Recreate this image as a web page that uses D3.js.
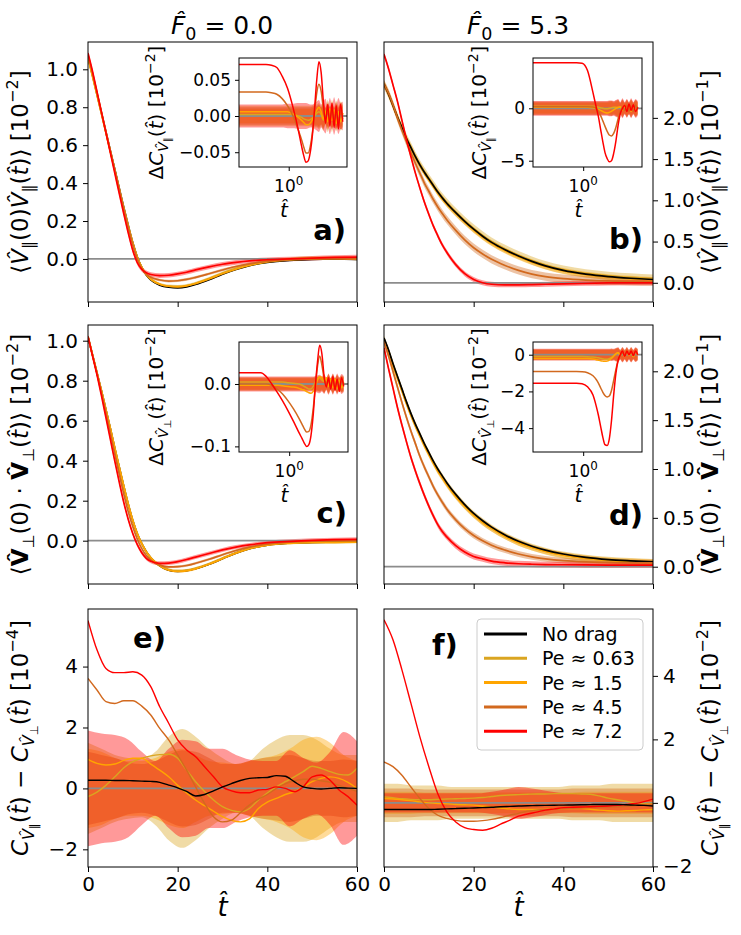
<!DOCTYPE html>
<html>
<head>
<meta charset="utf-8">
<script src="https://cdn.jsdelivr.net/npm/d3@7"></script>
<style>
  body { margin: 0; background: #fff; }
  svg { font-family: "DejaVu Sans", sans-serif; }
</style>
</head>
<body>
<div id="chart"></div>
<script>
// ---- data ----
const SERIES = ['No drag', 'Pe ≈ 0.63', 'Pe ≈ 1.5', 'Pe ≈ 4.5', 'Pe ≈ 7.2'];
const COLORS = ['#000000', '#daa520', '#ffa500', '#d2691e', '#ff0000'];

// main time grid for panels a-d
const T = [0, 1, 2, 3, 4, 5, 6, 7, 8, 9, 10, 11, 12, 13, 14, 16, 18, 20, 22, 24, 27, 30, 33, 36, 40, 45, 50, 55, 60];

const aBlack = [1.065, 0.97, 0.87, 0.77, 0.67, 0.57, 0.47, 0.37, 0.27, 0.175, 0.085, 0.01, -0.045, -0.085, -0.11, -0.138, -0.149, -0.152, -0.147, -0.135, -0.11, -0.08, -0.055, -0.035, -0.018, -0.007, -0.002, 0.0, -0.003];
const aGold = [1.06, 0.965, 0.865, 0.765, 0.665, 0.565, 0.465, 0.365, 0.265, 0.172, 0.083, 0.008, -0.045, -0.083, -0.107, -0.133, -0.143, -0.145, -0.14, -0.128, -0.103, -0.074, -0.05, -0.03, -0.012, 0.0, 0.006, 0.006, 0.0];
const aOrange = [1.058, 0.963, 0.865, 0.765, 0.665, 0.566, 0.466, 0.366, 0.266, 0.172, 0.083, 0.009, -0.044, -0.082, -0.106, -0.133, -0.144, -0.147, -0.142, -0.13, -0.106, -0.078, -0.054, -0.034, -0.016, -0.005, 0.0, 0.002, 0.0];
const aChoc = [1.075, 0.98, 0.878, 0.775, 0.672, 0.57, 0.468, 0.366, 0.262, 0.165, 0.074, 0.0, -0.05, -0.081, -0.097, -0.111, -0.117, -0.115, -0.108, -0.097, -0.078, -0.058, -0.04, -0.026, -0.013, -0.004, 0.0, 0.002, 0.0];
const aRed = [1.085, 0.99, 0.882, 0.774, 0.666, 0.558, 0.45, 0.342, 0.236, 0.135, 0.045, -0.02, -0.055, -0.073, -0.082, -0.088, -0.086, -0.079, -0.07, -0.058, -0.042, -0.028, -0.018, -0.01, -0.004, 0.0, 0.004, 0.008, 0.01];

const bBlack = [2.41, 2.29, 2.15, 2.01, 1.88, 1.75, 1.64, 1.53, 1.43, 1.34, 1.26, 1.18, 1.1, 1.03, 0.965, 0.85, 0.745, 0.65, 0.565, 0.49, 0.4, 0.325, 0.26, 0.205, 0.15, 0.105, 0.075, 0.055, 0.04];
const bGold = [2.41, 2.29, 2.15, 2.01, 1.88, 1.76, 1.65, 1.54, 1.44, 1.35, 1.27, 1.19, 1.11, 1.04, 0.975, 0.86, 0.755, 0.66, 0.575, 0.5, 0.41, 0.335, 0.27, 0.215, 0.16, 0.115, 0.085, 0.065, 0.05];
const bOrange = [2.41, 2.29, 2.15, 2.01, 1.88, 1.75, 1.63, 1.52, 1.42, 1.33, 1.25, 1.17, 1.09, 1.02, 0.955, 0.84, 0.735, 0.64, 0.555, 0.48, 0.39, 0.315, 0.25, 0.197, 0.143, 0.1, 0.07, 0.05, 0.036];
const bChoc = [2.41, 2.3, 2.16, 2.0, 1.85, 1.71, 1.58, 1.45, 1.33, 1.21, 1.11, 1.01, 0.92, 0.84, 0.765, 0.635, 0.52, 0.425, 0.35, 0.285, 0.21, 0.15, 0.105, 0.075, 0.05, 0.032, 0.022, 0.018, 0.015];
const bRed = [2.77, 2.6, 2.4, 2.2, 1.97, 1.74, 1.53, 1.33, 1.15, 0.98, 0.83, 0.69, 0.57, 0.46, 0.37, 0.22, 0.11, 0.04, 0.0, -0.018, -0.025, -0.025, -0.022, -0.018, -0.012, -0.006, -0.002, 0.0, 0.0];

const cBlack = [1.02, 0.93, 0.84, 0.75, 0.655, 0.56, 0.46, 0.365, 0.27, 0.18, 0.1, 0.035, -0.015, -0.055, -0.085, -0.125, -0.147, -0.153, -0.15, -0.14, -0.118, -0.09, -0.062, -0.04, -0.022, -0.012, -0.008, -0.007, -0.006];
const cGold = [1.02, 0.93, 0.84, 0.75, 0.655, 0.56, 0.462, 0.366, 0.272, 0.182, 0.102, 0.036, -0.014, -0.054, -0.084, -0.123, -0.144, -0.15, -0.147, -0.137, -0.115, -0.087, -0.06, -0.039, -0.021, -0.012, -0.009, -0.008, -0.007];
const cOrange = [1.02, 0.93, 0.84, 0.75, 0.655, 0.56, 0.46, 0.364, 0.27, 0.18, 0.1, 0.034, -0.016, -0.056, -0.086, -0.126, -0.148, -0.154, -0.151, -0.141, -0.118, -0.09, -0.062, -0.04, -0.022, -0.013, -0.009, -0.008, -0.007];
const cChoc = [1.02, 0.928, 0.836, 0.74, 0.64, 0.536, 0.432, 0.33, 0.232, 0.143, 0.07, 0.008, -0.04, -0.074, -0.097, -0.122, -0.131, -0.13, -0.124, -0.113, -0.093, -0.07, -0.049, -0.032, -0.017, -0.007, -0.002, 0.0, 0.0];
const cRed = [1.02, 0.925, 0.83, 0.725, 0.615, 0.505, 0.395, 0.29, 0.19, 0.105, 0.035, -0.02, -0.06, -0.088, -0.103, -0.113, -0.112, -0.105, -0.094, -0.082, -0.064, -0.046, -0.032, -0.021, -0.01, -0.003, 0.002, 0.005, 0.007];

const dBlack = [2.34, 2.22, 2.08, 1.95, 1.82, 1.69, 1.57, 1.46, 1.36, 1.26, 1.17, 1.08, 1.0, 0.93, 0.86, 0.74, 0.635, 0.545, 0.47, 0.405, 0.325, 0.26, 0.21, 0.17, 0.13, 0.095, 0.073, 0.06, 0.05];
const dGold = [2.33, 2.21, 2.07, 1.94, 1.81, 1.68, 1.56, 1.45, 1.35, 1.25, 1.16, 1.07, 0.99, 0.92, 0.85, 0.73, 0.625, 0.535, 0.46, 0.395, 0.315, 0.25, 0.2, 0.16, 0.12, 0.088, 0.066, 0.054, 0.045];
const dOrange = [2.33, 2.2, 2.06, 1.93, 1.8, 1.67, 1.55, 1.44, 1.34, 1.24, 1.15, 1.06, 0.98, 0.91, 0.84, 0.72, 0.618, 0.528, 0.453, 0.39, 0.31, 0.245, 0.196, 0.157, 0.118, 0.086, 0.065, 0.053, 0.044];
const dChoc = [2.30, 2.16, 2.0, 1.84, 1.68, 1.53, 1.39, 1.26, 1.13, 1.02, 0.92, 0.82, 0.735, 0.66, 0.59, 0.48, 0.39, 0.32, 0.265, 0.22, 0.17, 0.13, 0.1, 0.08, 0.062, 0.05, 0.044, 0.04, 0.04];
const dRed = [2.24, 2.03, 1.83, 1.63, 1.45, 1.28, 1.12, 0.98, 0.85, 0.73, 0.62, 0.52, 0.43, 0.36, 0.305, 0.215, 0.15, 0.105, 0.08, 0.058, 0.04, 0.03, 0.025, 0.022, 0.02, 0.018, 0.017, 0.017, 0.017];

// error half-widths around the curves (black, 0.63, 1.5, 4.5, 7.2)
const aErr = [0.003, 0.008, 0.006, 0.007, 0.012];
const bErr = [0.015, 0.05, 0.035, 0.05, 0.03];
const cErr = [0.003, 0.006, 0.005, 0.006, 0.01];
const dErr = [0.015, 0.035, 0.03, 0.03, 0.03];

// time grid for panels e-f
const TE = [0, 2, 4, 6, 8, 10, 12, 14, 16, 18, 20, 22, 24, 26, 28, 30, 32, 34, 36, 38, 40, 42, 44, 46, 48, 50, 52, 54, 56, 58, 60];

const eBlack = [0.27, 0.27, 0.27, 0.26, 0.26, 0.25, 0.24, 0.23, 0.2, 0.11, 0.02, -0.1, -0.25, -0.2, -0.08, 0.05, 0.16, 0.26, 0.33, 0.35, 0.36, 0.42, 0.4, 0.22, 0.05, 0.0, -0.02, 0.0, 0.02, 0.01, 0.0];
const eGold = [-0.27, -0.12, 0.1, 0.38, 0.68, 0.88, 0.99, 1.07, 1.11, 1.12, 0.99, 0.6, 0.22, -0.1, -0.38, -0.6, -0.72, -0.77, -0.66, -0.38, -0.15, 0.05, 0.22, 0.38, 0.55, 0.73, 0.66, 0.55, 0.46, 0.44, 0.66];
const eOrange = [0.95, 0.82, 0.77, 0.8, 0.92, 0.99, 0.99, 0.8, 0.6, 0.38, 0.1, -0.15, -0.38, -0.57, -0.75, -0.93, -1.05, -1.1, -1.0, -0.66, -0.45, -0.33, -0.2, -0.11, 0.05, 0.22, 0.33, 0.38, 0.33, 0.2, 0.0];
const eChoc = [3.61, 3.23, 2.85, 2.79, 2.88, 2.88, 2.7, 2.41, 1.97, 1.59, 1.1, 0.6, 0.05, -0.49, -0.93, -1.1, -1.04, -0.8, -0.55, -0.35, -0.2, 0.0, 0.15, 0.25, 0.3, 0.3, 0.25, 0.2, 0.1, 0.0, -0.1];
const eRed = [5.51, 4.55, 3.94, 3.8, 3.8, 3.83, 3.72, 3.34, 2.68, 2.14, 1.59, 1.26, 1.04, 0.71, 0.38, 0.05, -0.08, -0.14, -0.14, -0.05, -0.03, 0.05, 0.0, -0.11, 0.05, 0.38, 0.44, 0.27, -0.05, -0.27, -0.55];

const fBlack = [-0.21, -0.21, -0.21, -0.21, -0.21, -0.21, -0.2, -0.19, -0.18, -0.17, -0.16, -0.15, -0.14, -0.12, -0.11, -0.1, -0.09, -0.085, -0.08, -0.075, -0.07, -0.065, -0.06, -0.055, -0.05, -0.05, -0.05, -0.06, -0.07, -0.08, -0.1];
const fGold = [0.19, 0.16, 0.13, 0.11, 0.1, 0.1, 0.11, 0.12, 0.13, 0.14, 0.15, 0.17, 0.2, 0.23, 0.25, 0.26, 0.27, 0.28, 0.28, 0.29, 0.29, 0.29, 0.28, 0.27, 0.22, 0.15, 0.1, 0.05, 0.0, -0.02, -0.02];
const fOrange = [0.14, 0.12, 0.1, 0.07, 0.03, 0.0, -0.02, -0.03, -0.05, -0.06, -0.07, -0.1, -0.13, -0.16, -0.19, -0.21, -0.21, -0.21, -0.2, -0.19, -0.18, -0.18, -0.18, -0.2, -0.23, -0.25, -0.26, -0.25, -0.24, -0.22, -0.21];
const fChoc = [1.29, 1.14, 0.87, 0.5, 0.14, -0.18, -0.39, -0.49, -0.55, -0.58, -0.58, -0.56, -0.52, -0.46, -0.39, -0.33, -0.26, -0.23, -0.21, -0.2, -0.18, -0.17, -0.16, -0.15, -0.14, -0.13, -0.12, -0.11, -0.09, -0.06, -0.04];
const fRed = [5.77, 5.14, 4.19, 3.14, 2.08, 1.14, 0.29, -0.28, -0.6, -0.78, -0.84, -0.86, -0.8, -0.67, -0.55, -0.42, -0.35, -0.29, -0.23, -0.19, -0.15, -0.14, -0.13, -0.12, -0.11, -0.1, -0.08, -0.05, -0.02, 0.04, 0.12];

// noise bands around zero for panels e-f (0.63, 1.5, 4.5, 7.2)
const TB = [0, 3, 6, 9, 12, 15, 18, 21, 24, 27, 30, 33, 36, 39, 42, 45, 48, 51, 54, 57, 60];
const eBandGold = [1.5, 1.3, 1.1, 1.0, 0.95, 1.2, 1.7, 1.95, 1.7, 1.3, 1.0, 0.8, 0.9, 1.3, 1.6, 1.75, 1.75, 1.6, 1.3, 1.1, 1.1];
const eBandOrange = [1.3, 1.2, 1.0, 0.9, 0.9, 1.0, 1.2, 1.3, 1.1, 0.9, 0.85, 0.8, 0.9, 1.0, 1.1, 1.3, 1.6, 1.7, 1.5, 1.1, 0.9];
const eBandChoc = [1.2, 1.1, 1.0, 0.85, 0.8, 0.9, 1.1, 1.25, 1.2, 1.0, 0.8, 0.8, 0.9, 1.0, 1.05, 1.1, 1.0, 0.9, 0.9, 0.95, 0.9];
const eBandRed = [1.9, 1.8, 1.75, 1.6, 1.2, 0.9, 1.3, 1.6, 1.55, 1.3, 1.3, 1.1, 0.95, 0.9, 0.9, 1.25, 1.0, 0.85, 1.2, 1.85, 1.55];
const fBandGold = [0.6, 0.6, 0.55, 0.55, 0.55, 0.5, 0.5, 0.5, 0.5, 0.5, 0.5, 0.5, 0.5, 0.5, 0.55, 0.55, 0.55, 0.6, 0.6, 0.6, 0.6];
const fBandOrange = [0.35, 0.35, 0.35, 0.33, 0.33, 0.33, 0.33, 0.33, 0.33, 0.33, 0.33, 0.33, 0.33, 0.33, 0.33, 0.35, 0.35, 0.35, 0.35, 0.35, 0.35];
const fBandChoc = [0.45, 0.45, 0.45, 0.42, 0.42, 0.42, 0.42, 0.42, 0.42, 0.42, 0.42, 0.42, 0.42, 0.42, 0.45, 0.45, 0.45, 0.45, 0.45, 0.45, 0.45];
const fBandRed = [0.3, 0.3, 0.3, 0.3, 0.3, 0.3, 0.3, 0.3, 0.35, 0.42, 0.5, 0.45, 0.38, 0.32, 0.3, 0.3, 0.3, 0.3, 0.3, 0.3, 0.3];

// inset time grid (log axis)
const IT = [0.2, 0.284, 0.402, 0.479, 0.572, 0.68, 0.809, 0.965, 1.149, 1.37, 1.52, 1.63, 1.75, 1.88, 2.01, 2.16, 2.31, 2.48, 2.66, 2.86, 3.07, 3.29, 3.53, 3.79, 4.06, 4.35, 4.66, 5.0, 5.36, 5.75];

const iaGold = [0.002, 0.002, 0.002, 0.002, 0.002, 0.002, 0.002, 0.002, 0.002, 0.0, -0.002, -0.004, -0.005, -0.006, -0.005, -0.003, 0.0, 0.004, 0.006, 0.002, -0.006, 0.008, -0.008, 0.01, -0.006, 0.009, -0.01, 0.006, -0.008, 0.004];
const iaOrange = [0.006, 0.006, 0.006, 0.006, 0.006, 0.006, 0.006, 0.006, 0.003, -0.002, -0.006, -0.009, -0.012, -0.012, -0.01, -0.005, 0.002, 0.008, 0.012, 0.006, -0.004, 0.006, -0.008, 0.01, -0.006, 0.008, -0.01, 0.006, -0.008, 0.004];
const iaChoc = [0.033, 0.033, 0.033, 0.033, 0.032, 0.03, 0.024, 0.014, 0.0, -0.02, -0.033, -0.043, -0.051, -0.051, -0.042, -0.022, 0.005, 0.032, 0.044, 0.034, 0.01, -0.004, 0.008, -0.006, 0.01, -0.008, 0.006, -0.01, 0.008, -0.004];
const iaRed = [0.071, 0.071, 0.071, 0.071, 0.07, 0.067, 0.055, 0.038, 0.012, -0.02, -0.042, -0.055, -0.064, -0.062, -0.05, -0.025, 0.01, 0.05, 0.075, 0.06, 0.02, -0.01, 0.016, -0.014, 0.018, -0.016, 0.014, -0.018, 0.016, -0.008];
const iaBandGold = [0.014, 0.014, 0.014, 0.014, 0.014, 0.014, 0.014, 0.014, 0.014, 0.014, 0.014, 0.014, 0.014, 0.014, 0.014, 0.015, 0.016, 0.016, 0.018, 0.014, 0.02, 0.012, 0.022, 0.013, 0.022, 0.012, 0.021, 0.014, 0.02, 0.016];
const iaBandOrange = [0.01, 0.01, 0.01, 0.01, 0.01, 0.01, 0.01, 0.01, 0.01, 0.01, 0.01, 0.01, 0.01, 0.01, 0.01, 0.011, 0.012, 0.012, 0.014, 0.011, 0.016, 0.01, 0.017, 0.01, 0.016, 0.01, 0.016, 0.011, 0.015, 0.012];
const iaBandChoc = [0.012, 0.012, 0.012, 0.012, 0.012, 0.012, 0.012, 0.012, 0.012, 0.012, 0.012, 0.012, 0.012, 0.012, 0.012, 0.013, 0.014, 0.014, 0.016, 0.012, 0.018, 0.011, 0.019, 0.012, 0.018, 0.011, 0.019, 0.012, 0.018, 0.014];
const iaBandRed = [0.016, 0.016, 0.016, 0.016, 0.016, 0.016, 0.016, 0.017, 0.017, 0.018, 0.018, 0.018, 0.018, 0.017, 0.016, 0.016, 0.018, 0.02, 0.022, 0.016, 0.02, 0.024, 0.014, 0.025, 0.015, 0.026, 0.016, 0.025, 0.018, 0.02];

const ibGold = [0.2, 0.2, 0.2, 0.2, 0.2, 0.2, 0.2, 0.2, 0.2, 0.2, 0.15, 0.1, 0.05, 0.0, -0.05, -0.05, 0.0, 0.05, 0.1, 0.1, 0.05, 0.15, -0.2, 0.3, -0.2, 0.25, -0.3, 0.2, -0.2, 0.1];
const ibOrange = [0.1, 0.1, 0.1, 0.1, 0.1, 0.1, 0.1, 0.1, 0.1, 0.05, 0.0, -0.1, -0.2, -0.3, -0.4, -0.45, -0.4, -0.3, -0.15, 0.0, 0.1, 0.15, -0.2, 0.3, -0.2, 0.2, -0.3, 0.2, -0.2, 0.1];
const ibChoc = [0.15, 0.15, 0.15, 0.15, 0.15, 0.15, 0.15, 0.15, 0.15, 0.12, 0.0, -0.3, -0.7, -1.2, -1.7, -2.2, -2.55, -2.64, -2.4, -1.8, -1.0, -0.3, 0.1, -0.2, 0.3, -0.3, 0.2, -0.3, 0.3, 0.0];
const ibRed = [4.35, 4.35, 4.35, 4.35, 4.35, 4.35, 4.35, 4.3, 3.6, 1.5, 0.1, -0.8, -2.0, -3.2, -4.2, -4.8, -5.1, -5.0, -4.3, -3.1, -1.6, -0.5, 0.0, 0.3, -0.3, 0.4, -0.2, 0.35, -0.3, 0.1];
const ibBandGold = [0.6, 0.6, 0.6, 0.6, 0.6, 0.6, 0.6, 0.6, 0.6, 0.6, 0.6, 0.6, 0.6, 0.6, 0.6, 0.6, 0.65, 0.7, 0.6, 0.7, 0.8, 0.5, 0.85, 0.5, 0.8, 0.55, 0.85, 0.5, 0.8, 0.6];
const ibBandOrange = [0.5, 0.5, 0.5, 0.5, 0.5, 0.5, 0.5, 0.5, 0.5, 0.5, 0.5, 0.5, 0.5, 0.5, 0.5, 0.5, 0.55, 0.6, 0.5, 0.6, 0.7, 0.45, 0.7, 0.45, 0.7, 0.45, 0.7, 0.45, 0.7, 0.5];
const ibBandChoc = [0.65, 0.65, 0.65, 0.65, 0.65, 0.65, 0.65, 0.65, 0.65, 0.65, 0.65, 0.65, 0.65, 0.65, 0.65, 0.65, 0.7, 0.7, 0.65, 0.75, 0.8, 0.55, 0.85, 0.55, 0.85, 0.55, 0.85, 0.55, 0.8, 0.6];
const ibBandRed = [0.7, 0.7, 0.7, 0.7, 0.7, 0.7, 0.7, 0.7, 0.7, 0.7, 0.7, 0.7, 0.7, 0.7, 0.7, 0.7, 0.75, 0.75, 0.7, 0.8, 0.9, 0.6, 0.95, 0.6, 0.9, 0.6, 0.95, 0.6, 0.9, 0.7];

const icGold = [0.003, 0.003, 0.003, 0.003, 0.003, 0.003, 0.003, 0.002, 0.001, 0.0, -0.002, -0.004, -0.006, -0.008, -0.008, -0.004, 0.003, 0.009, 0.01, 0.006, 0.004, 0.008, -0.004, 0.008, -0.006, 0.006, -0.008, 0.006, -0.006, 0.002];
const icOrange = [-0.002, -0.002, -0.002, -0.002, -0.002, -0.002, -0.003, -0.004, -0.005, -0.007, -0.009, -0.01, -0.012, -0.014, -0.015, -0.012, -0.004, 0.006, 0.012, 0.01, 0.005, 0.01, -0.004, 0.008, -0.006, 0.008, -0.006, 0.006, -0.006, 0.003];
const icChoc = [0.0, 0.0, 0.0, 0.0, -0.002, -0.008, -0.016, -0.027, -0.04, -0.055, -0.065, -0.072, -0.077, -0.076, -0.066, -0.04, -0.005, 0.028, 0.045, 0.03, 0.008, -0.002, 0.008, -0.006, 0.008, -0.006, 0.006, -0.008, 0.006, -0.002];
const icRed = [0.018, 0.018, 0.018, 0.012, 0.0, -0.013, -0.027, -0.043, -0.06, -0.078, -0.088, -0.095, -0.1, -0.097, -0.083, -0.05, -0.005, 0.035, 0.062, 0.048, 0.012, -0.005, 0.01, -0.008, 0.012, -0.01, 0.008, -0.012, 0.01, -0.004];
const icBandGold = [0.011, 0.011, 0.011, 0.011, 0.011, 0.011, 0.011, 0.011, 0.011, 0.011, 0.011, 0.011, 0.011, 0.011, 0.011, 0.011, 0.012, 0.012, 0.013, 0.011, 0.015, 0.009, 0.016, 0.009, 0.016, 0.009, 0.015, 0.01, 0.014, 0.012];
const icBandOrange = [0.009, 0.009, 0.009, 0.009, 0.009, 0.009, 0.009, 0.009, 0.009, 0.009, 0.009, 0.009, 0.009, 0.009, 0.009, 0.009, 0.01, 0.01, 0.011, 0.009, 0.013, 0.008, 0.013, 0.008, 0.013, 0.008, 0.013, 0.008, 0.012, 0.01];
const icBandChoc = [0.01, 0.01, 0.01, 0.01, 0.01, 0.01, 0.01, 0.01, 0.01, 0.01, 0.01, 0.01, 0.01, 0.01, 0.01, 0.01, 0.011, 0.011, 0.012, 0.01, 0.014, 0.009, 0.015, 0.009, 0.015, 0.009, 0.014, 0.009, 0.013, 0.011];
const icBandRed = [0.012, 0.012, 0.012, 0.012, 0.012, 0.012, 0.012, 0.012, 0.012, 0.012, 0.012, 0.012, 0.012, 0.012, 0.012, 0.012, 0.013, 0.014, 0.015, 0.012, 0.016, 0.01, 0.017, 0.01, 0.017, 0.01, 0.017, 0.011, 0.016, 0.013];

const idGold = [-0.1, -0.1, -0.1, -0.1, -0.1, -0.1, -0.1, -0.1, -0.11, -0.13, -0.15, -0.17, -0.2, -0.23, -0.25, -0.25, -0.22, -0.15, -0.05, 0.05, 0.1, 0.0, 0.15, -0.1, 0.2, -0.05, 0.15, -0.1, 0.15, 0.0];
const idOrange = [-0.2, -0.2, -0.2, -0.2, -0.2, -0.2, -0.2, -0.2, -0.21, -0.24, -0.27, -0.3, -0.33, -0.35, -0.36, -0.35, -0.3, -0.2, -0.08, 0.05, 0.1, -0.05, 0.15, -0.1, 0.2, -0.05, 0.15, -0.1, 0.15, 0.0];
const idChoc = [-0.92, -0.92, -0.92, -0.92, -0.92, -0.92, -0.92, -0.93, -0.98, -1.15, -1.35, -1.55, -1.8, -2.05, -2.22, -2.3, -2.25, -1.95, -1.4, -0.8, -0.3, -0.05, 0.1, -0.05, 0.2, 0.0, 0.15, -0.05, 0.15, 0.0];
const idRed = [-1.55, -1.55, -1.55, -1.55, -1.55, -1.55, -1.55, -1.58, -1.75, -2.2, -2.8, -3.3, -3.9, -4.5, -4.9, -4.95, -4.6, -3.6, -2.2, -1.0, -0.3, 0.0, 0.2, -0.1, 0.2, 0.0, 0.2, -0.05, 0.2, 0.0];
const idBandGold = [0.3, 0.3, 0.3, 0.3, 0.3, 0.3, 0.3, 0.3, 0.3, 0.3, 0.3, 0.3, 0.3, 0.3, 0.3, 0.3, 0.3, 0.32, 0.3, 0.35, 0.38, 0.25, 0.4, 0.25, 0.4, 0.25, 0.4, 0.25, 0.38, 0.3];
const idBandOrange = [0.25, 0.25, 0.25, 0.25, 0.25, 0.25, 0.25, 0.25, 0.25, 0.25, 0.25, 0.25, 0.25, 0.25, 0.25, 0.25, 0.25, 0.27, 0.25, 0.3, 0.32, 0.2, 0.34, 0.2, 0.34, 0.2, 0.34, 0.2, 0.32, 0.25];
const idBandChoc = [0.28, 0.28, 0.28, 0.28, 0.28, 0.28, 0.28, 0.28, 0.28, 0.28, 0.28, 0.28, 0.28, 0.28, 0.28, 0.28, 0.28, 0.3, 0.28, 0.33, 0.36, 0.22, 0.38, 0.22, 0.38, 0.22, 0.38, 0.22, 0.36, 0.28];
const idBandRed = [0.32, 0.32, 0.32, 0.32, 0.32, 0.32, 0.32, 0.32, 0.32, 0.32, 0.32, 0.32, 0.32, 0.32, 0.32, 0.32, 0.32, 0.34, 0.32, 0.37, 0.4, 0.27, 0.42, 0.27, 0.42, 0.27, 0.42, 0.27, 0.4, 0.32];

const X_TICKS = [0, 20, 40, 60];

// ---- layout ----
const W = 741, H = 935;
const COLS = [[88, 357], [384, 653]];
const ROWS = [[42, 302], [325, 584], [609, 867]];
const TICK = 5;
const FONT_TICK = 20;

const svg = d3.select('#chart').append('svg')
  .attr('width', W)
  .attr('height', H);

const HAT = '\u0302';
const LEVELS = { '0': [1, 0], '1': [0.7, -0.42], '-1': [0.7, 0.24], '-2': [0.5, 0.42] };

// mathtext-like label built from tspans: [text, style, level]
function mathText(parent, parts, size) {
  const text = parent.append('text').attr('font-size', size);
  let off = 0;
  parts.forEach(([s, style = '', lvl = 0]) => {
    const [k, d] = LEVELS[lvl];
    text.append('tspan')
      .attr('font-size', size * k)
      .attr('font-style', style.includes('i') ? 'italic' : null)
      .attr('font-weight', style.includes('b') ? 'bold' : null)
      .attr('dy', ((d - off) * size).toFixed(2))
      .text(s);
    off = d;
  });
  return text;
}

const V = 'V' + HAT, TH = 't' + HAT;
const LABEL_PAR = (exp) => [['⟨'], [V, 'i'], ['∥', '', -1], ['(0)'], [V, 'i'], ['∥', '', -1], ['('], [TH, 'i'], [')⟩ [10'], [exp, '', 1], [']']];
const LABEL_PERP = (exp) => [['⟨'], [V, 'b'], ['⊥', '', -1], ['(0) · '], [V, 'b'], ['⊥', '', -1], ['('], [TH, 'i'], [')⟩ [10'], [exp, '', 1], [']']];
const LABEL_DIFF = (exp) => [['C', 'i'], [V, 'i', -1], ['∥', '', -2], ['('], [TH, 'i'], [') − '], ['C', 'i'], [V, 'i', -1], ['⊥', '', -2], ['('], [TH, 'i'], [') [10'], [exp, '', 1], [']']];
const LABEL_DELTA = (sym) => [['Δ'], ['C', 'i'], [V, 'i', -1], [sym, '', -2], ['('], [TH, 'i'], [') [10'], ['−2', '', 1], [']']];

function styleAxis(g, size) {
  g.attr('font-family', null).attr('font-size', size);
  g.select('.domain').remove();
  g.selectAll('.tick line').attr('stroke', '#000').attr('stroke-width', 1);
  g.selectAll('.tick text').attr('fill', '#000');
}

function drawPanel(p) {
  const [x0, x1] = COLS[p.col];
  const [y0, y1] = ROWS[p.row];
  const x = d3.scaleLinear().domain([0, 60]).range([x0, x1]);
  const y = d3.scaleLinear().domain(p.yDomain).range([y1, y0]);
  const clip = 'clip-' + p.id;
  svg.append('clipPath').attr('id', clip)
    .append('rect').attr('x', x0).attr('y', y0).attr('width', x1 - x0).attr('height', y1 - y0);
  const plot = svg.append('g').attr('clip-path', `url(#${clip})`);

  // bands
  if (p.err) {
    p.series.forEach((vals, i) => {
      const area = d3.area().curve(d3.curveMonotoneX)
        .x((d, j) => x(p.t[j]))
        .y0((d) => y(d - p.err[i]))
        .y1((d) => y(d + p.err[i]));
      plot.append('path').datum(vals).attr('d', area)
        .attr('fill', COLORS[i]).attr('fill-opacity', i === 0 ? 0.25 : 0.4);
    });
  }
  if (p.bands) {
    p.bands.forEach((hw, k) => {
      const area = d3.area().curve(d3.curveMonotoneX)
        .x((d, j) => x(TB[j]))
        .y0((d) => y(-d))
        .y1((d) => y(d));
      plot.append('path').datum(hw).attr('d', area)
        .attr('fill', COLORS[k + 1]).attr('fill-opacity', 0.4);
    });
  }

  plot.append('line')
    .attr('x1', x0).attr('x2', x1).attr('y1', y(0)).attr('y2', y(0))
    .attr('stroke', '#8c8c8c').attr('stroke-width', 1.8);

  const line = d3.line().curve(d3.curveMonotoneX).x((d, j) => x(p.t[j])).y((d) => y(d));
  p.order.forEach((i) => {
    plot.append('path').datum(p.series[i]).attr('d', line)
      .attr('fill', 'none').attr('stroke', COLORS[i]).attr('stroke-width', p.lw);
  });

  // axes
  const xAxis = svg.append('g').attr('transform', `translate(0,${y1})`)
    .call(d3.axisBottom(x).tickValues(X_TICKS).tickSize(TICK).tickPadding(5)
      .tickFormat(p.row === 2 ? d3.format('d') : ''));
  styleAxis(xAxis, FONT_TICK);

  const axisFn = p.right ? d3.axisRight(y) : d3.axisLeft(y);
  const yAxis = svg.append('g').attr('transform', `translate(${p.right ? x1 : x0},0)`)
    .call(axisFn.tickValues(p.yTicks).tickSize(TICK).tickPadding(5).tickFormat(d3.format(p.yFmt)));
  styleAxis(yAxis, FONT_TICK);

  svg.append('rect').attr('x', x0).attr('y', y0).attr('width', x1 - x0).attr('height', y1 - y0)
    .attr('fill', 'none').attr('stroke', '#000').attr('stroke-width', 1);

  // y label
  const lx = p.right ? 718 : 28;
  const lab = mathText(svg.append('g').attr('transform', `translate(${lx},${(y0 + y1) / 2}) rotate(-90)`), p.label, 23);
  lab.attr('text-anchor', 'middle');

  // panel tag
  svg.append('text').attr('x', p.tag[1]).attr('y', p.tag[2])
    .attr('text-anchor', p.tag[3]).attr('font-size', 29).attr('font-weight', 'bold')
    .text(p.tag[0]);

  if (p.row === 2) {
    mathText(svg.append('g').attr('transform', `translate(${(x0 + x1) / 2},916)`), [[TH, 'i']], 26)
      .attr('text-anchor', 'middle');
  }
  return { x, y };
}

function drawInset(s) {
  const [x0, x1, y0, y1] = s.box;
  const x = d3.scaleLog().domain([0.2, 6.6]).range([x0, x1]);
  const y = d3.scaleLinear().domain(s.yDomain).range([y1, y0]);
  const clip = 'clip-in-' + s.id;
  svg.append('clipPath').attr('id', clip)
    .append('rect').attr('x', x0).attr('y', y0).attr('width', x1 - x0).attr('height', y1 - y0);
  svg.append('rect').attr('x', x0).attr('y', y0).attr('width', x1 - x0).attr('height', y1 - y0)
    .attr('fill', '#fff');
  const plot = svg.append('g').attr('clip-path', `url(#${clip})`);

  s.bands.forEach((hw, k) => {
    const area = d3.area().curve(d3.curveMonotoneX)
      .x((d, j) => x(IT[j])).y0((d) => y(-d)).y1((d) => y(d));
    plot.append('path').datum(hw).attr('d', area)
      .attr('fill', COLORS[k + 1]).attr('fill-opacity', 0.4);
  });
  plot.append('line').attr('x1', x0).attr('x2', x1).attr('y1', y(0)).attr('y2', y(0))
    .attr('stroke', '#8c8c8c').attr('stroke-width', 1.8);
  const line = d3.line().curve(d3.curveMonotoneX).x((d, j) => x(IT[j])).y((d) => y(d));
  s.series.forEach((vals, k) => {
    plot.append('path').datum(vals).attr('d', line)
      .attr('fill', 'none').attr('stroke', COLORS[k + 1]).attr('stroke-width', 1.5);
  });

  const yAxis = svg.append('g').attr('transform', `translate(${x0},0)`)
    .call(d3.axisLeft(y).tickValues(s.yTicks).tickSize(4).tickPadding(4).tickFormat(d3.format(s.yFmt)));
  styleAxis(yAxis, 17);
  const xAxis = svg.append('g').attr('transform', `translate(0,${y1})`)
    .call(d3.axisBottom(x).tickValues([1]).tickSize(4).tickFormat(''));
  styleAxis(xAxis, 17);
  mathText(svg.append('g').attr('transform', `translate(${x(1)},${y1 + 25})`), [['10'], ['0', '', 1]], 17)
    .attr('text-anchor', 'middle');
  mathText(svg.append('g').attr('transform', `translate(${(x0 + x1) / 2 - 9},${y1 + 50})`), [[TH, 'i']], 20)
    .attr('text-anchor', 'middle');

  svg.append('rect').attr('x', x0).attr('y', y0).attr('width', x1 - x0).attr('height', y1 - y0)
    .attr('fill', 'none').attr('stroke', '#000').attr('stroke-width', 1);

  mathText(svg.append('g').attr('transform', `translate(${s.labelX},${(y0 + y1) / 2}) rotate(-90)`), s.label, 20)
    .attr('text-anchor', 'middle');
}

const ORDER = [0, 1, 2, 3, 4];

drawPanel({ id: 'a', col: 0, row: 0, t: T, series: [aBlack, aGold, aOrange, aChoc, aRed], err: aErr,
  yDomain: [-0.227, 1.144], yTicks: [0, 0.2, 0.4, 0.6, 0.8, 1.0], yFmt: '.1f', order: ORDER, lw: 1.7,
  label: LABEL_PAR('−2'), tag: ['a)', 346, 240, 'end'] });
drawPanel({ id: 'b', col: 1, row: 0, t: T, series: [bBlack, bGold, bOrange, bChoc, bRed], err: bErr, right: true,
  yDomain: [-0.233, 2.92], yTicks: [0, 0.5, 1.0, 1.5, 2.0], yFmt: '.1f', order: [1, 2, 0, 3, 4], lw: 1.7,
  label: LABEL_PAR('−1'), tag: ['b)', 643, 249, 'end'] });
drawPanel({ id: 'c', col: 0, row: 1, t: T, series: [cBlack, cGold, cOrange, cChoc, cRed], err: cErr,
  yDomain: [-0.2165, 1.0785], yTicks: [0, 0.2, 0.4, 0.6, 0.8, 1.0], yFmt: '.1f', order: ORDER, lw: 1.7,
  label: LABEL_PERP('−2'), tag: ['c)', 347, 523, 'end'] });
drawPanel({ id: 'd', col: 1, row: 1, t: T, series: [dBlack, dGold, dOrange, dChoc, dRed], err: dErr, right: true,
  yDomain: [-0.177, 2.474], yTicks: [0, 0.5, 1.0, 1.5, 2.0], yFmt: '.1f', order: [1, 2, 0, 3, 4], lw: 1.7,
  label: LABEL_PERP('−1'), tag: ['d)', 643, 525, 'end'] });
drawPanel({ id: 'e', col: 0, row: 2, t: TE, series: [eBlack, eGold, eOrange, eChoc, eRed],
  bands: [eBandGold, eBandOrange, eBandChoc, eBandRed],
  yDomain: [-2.58, 5.89], yTicks: [-2, 0, 2, 4], yFmt: 'd', order: [1, 2, 3, 4, 0], lw: 1.4,
  label: LABEL_DIFF('−4'), tag: ['e)', 133, 648, 'start'] });
drawPanel({ id: 'f', col: 1, row: 2, t: TE, series: [fBlack, fGold, fOrange, fChoc, fRed], right: true,
  bands: [fBandGold, fBandOrange, fBandChoc, fBandRed],
  yDomain: [-2.02, 6.107], yTicks: [-2, 0, 2, 4], yFmt: 'd', order: [1, 2, 3, 4, 0], lw: 1.4,
  label: LABEL_DIFF('−2'), tag: ['f)', 432, 655, 'start'] });

drawInset({ id: 'a', box: [239, 347, 58, 167], series: [iaGold, iaOrange, iaChoc, iaRed],
  bands: [iaBandGold, iaBandOrange, iaBandChoc, iaBandRed],
  yDomain: [-0.0704, 0.0801], yTicks: [-0.05, 0, 0.05], yFmt: '.2f', labelX: 163, label: LABEL_DELTA('∥') });
drawInset({ id: 'b', box: [533, 642, 58, 167], series: [ibGold, ibOrange, ibChoc, ibRed],
  bands: [ibBandGold, ibBandOrange, ibBandChoc, ibBandRed],
  yDomain: [-5.6, 4.8], yTicks: [-5, 0], yFmt: 'd', labelX: 486, label: LABEL_DELTA('∥') });
drawInset({ id: 'c', box: [239, 348, 342, 452], series: [icGold, icOrange, icChoc, icRed],
  bands: [icBandGold, icBandOrange, icBandChoc, icBandRed],
  yDomain: [-0.109, 0.0673], yTicks: [-0.1, 0], yFmt: '.1f', labelX: 163, label: LABEL_DELTA('⊥') });
drawInset({ id: 'd', box: [533, 642, 342, 452], series: [idGold, idOrange, idChoc, idRed],
  bands: [idBandGold, idBandOrange, idBandChoc, idBandRed],
  yDomain: [-5.3, 0.692], yTicks: [-4, -2, 0], yFmt: 'd', labelX: 486, label: LABEL_DELTA('⊥') });

// column titles
mathText(svg.append('g').attr('transform', 'translate(222,34)'), [['F' + HAT, 'i'], ['0', '', -1], [' = 0.0']], 25)
  .attr('text-anchor', 'middle');
mathText(svg.append('g').attr('transform', 'translate(518,34)'), [['F' + HAT, 'i'], ['0', '', -1], [' = 5.3']], 25)
  .attr('text-anchor', 'middle');

// legend
const legend = svg.append('g').attr('transform', 'translate(477,619)');
legend.append('rect').attr('width', 166).attr('height', 131).attr('rx', 4)
  .attr('fill', '#fff').attr('fill-opacity', 0.8).attr('stroke', '#cccccc');
SERIES.forEach((name, i) => {
  const row = legend.append('g').attr('transform', `translate(0,${15 + i * 24.3})`);
  row.append('line').attr('x1', 7).attr('x2', 50).attr('stroke', COLORS[i]).attr('stroke-width', 3);
  row.append('text').attr('x', 65).attr('y', 7).attr('font-size', 19).text(name);
});
</script>
</body>
</html>
